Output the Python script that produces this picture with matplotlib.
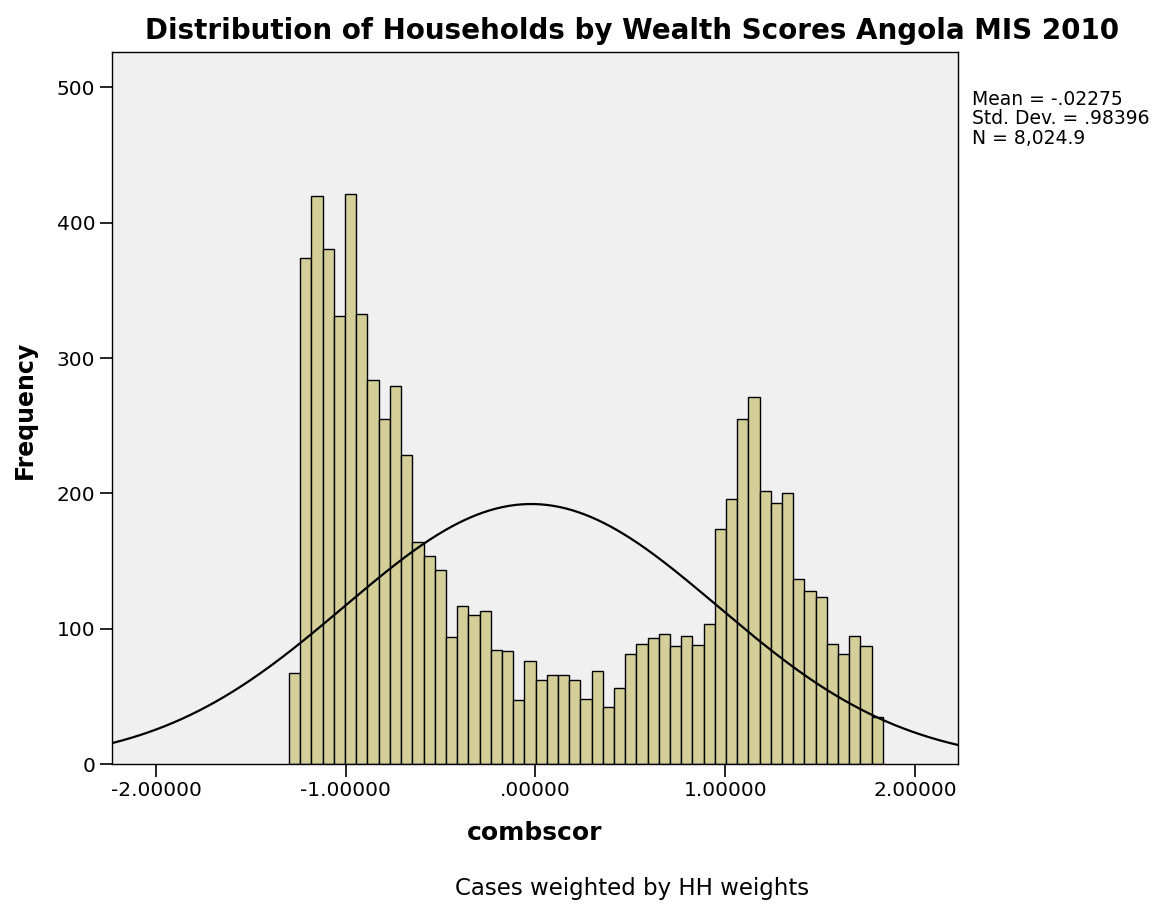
import numpy as np
import matplotlib
matplotlib.use("Agg")
import matplotlib.pyplot as plt

plt.rcParams['font.family'] = ['DejaVu Sans']

# histogram of combscor (weighted counts per bin)
bin_start = -1.299
bin_width = 0.05906
counts = [67.5, 374, 420, 380.5, 331, 421.5, 332.5, 284, 255, 279.5,
          228.5, 164, 154, 143.6, 94, 117, 110, 113, 84, 83.5,
          47.5, 76, 62, 66, 66, 62, 47.7, 68.7, 42, 56.4,
          81, 89, 93.3, 96.3, 87, 94.5, 88.2, 103.2, 173.4, 196.2,
          254.8, 270.9, 201.8, 193.2, 200.3, 136.5, 127.8, 123.4, 88.4, 81,
          94.5, 87.6, 35.1]

# summary statistics shown in the legend
mean = -0.02275
std_dev = 0.98396
n_cases = 8024.9

x_ticks = [-2.0, -1.0, 0.0, 1.0, 2.0]
x_tick_labels = ['-2.00000', '-1.00000', '.00000', '1.00000', '2.00000']
y_ticks = [0, 100, 200, 300, 400, 500]

fig = plt.figure(figsize=(11.6, 9.06), dpi=100)
ax = fig.add_axes([0.0966, 0.1567, 0.7294, 0.7863])
ax.set_facecolor('#F0F0F0')

edges = bin_start + bin_width * np.arange(len(counts) + 1)
ax.bar(edges[:-1], counts, width=bin_width, align='edge',
       color='#D4CF98', edgecolor='black', linewidth=1.0, zorder=2)

# normal curve scaled to the histogram
xs = np.linspace(-2.232, 2.228, 400)
ys = n_cases * bin_width / (std_dev * np.sqrt(2 * np.pi)) * \
    np.exp(-0.5 * ((xs - mean) / std_dev) ** 2)
ax.plot(xs, ys, color='black', lw=1.6, zorder=3)

ax.set_xlim(-2.232, 2.228)
ax.set_ylim(0, 526.5)
ax.set_xticks(x_ticks)
ax.set_xticklabels(x_tick_labels)
ax.set_yticks(y_ticks)
ax.tick_params(axis='both', direction='out', length=9, width=1.2,
               labelsize=14.5, colors='black', pad=3)

for s in ['top', 'bottom', 'left', 'right']:
    ax.spines[s].set_linewidth(1.0)
    ax.spines[s].set_color('black')

xl = ax.set_xlabel('combscor', fontsize=18, fontweight='bold')
xl.set_va('center')
ax.xaxis.set_label_coords(0.5, -0.0964)
yl = ax.set_ylabel('Frequency', fontsize=17, fontweight='bold')
yl.set_va('center')
ax.yaxis.set_label_coords(-0.103, 0.497)

fig.text(0.545, 0.966, 'Distribution of Households by Wealth Scores Angola MIS 2010',
         ha='center', va='center', fontsize=20, fontweight='bold')
fig.text(0.545, 0.019, 'Cases weighted by HH weights',
         ha='center', va='center', fontsize=16.5)

stats = 'Mean = -.02275\nStd. Dev. = .98396\nN = 8,024.9'
fig.text(0.838, 0.901, stats, ha='left', va='top', fontsize=13.5,
         linespacing=1.05)

fig.savefig('out.png', dpi=100)
